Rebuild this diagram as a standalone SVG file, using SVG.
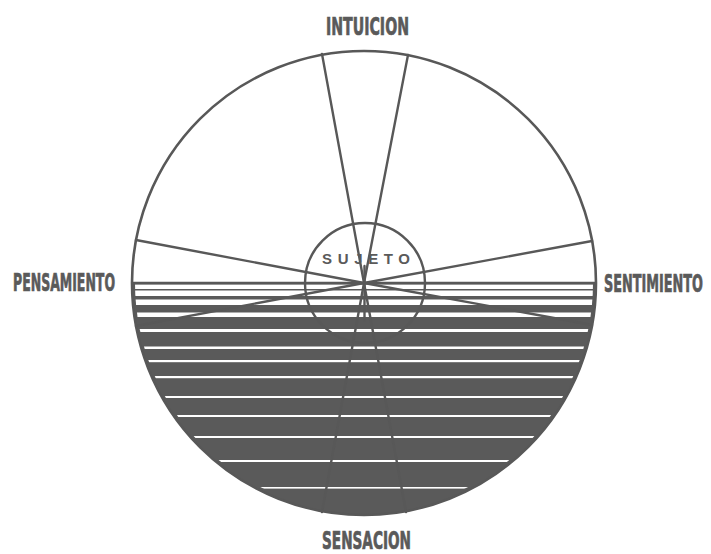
<svg xmlns="http://www.w3.org/2000/svg" width="711" height="554" viewBox="0 0 711 554">
<style>
.ln{stroke:#585858;stroke-width:2.4;fill:none;stroke-linecap:round}
.st{fill:#ffffff}
.lbl{font-family:"Liberation Sans Narrow","DejaVu Sans Condensed","Liberation Sans",sans-serif;font-weight:bold;fill:#5a5a5a;stroke:#5a5a5a;stroke-width:0.7;font-size:25px}
.suj{font-family:"Liberation Sans","DejaVu Sans",sans-serif;font-weight:bold;fill:#5a5a5a;font-size:15px}
</style>
<defs>
<clipPath id="inner"><circle cx="364" cy="283" r="229"/></clipPath>
</defs>
<rect width="711" height="554" fill="#ffffff"/>
<g id="disc">
<path d="M132 283 A232 232 0 0 0 596 283 Z" fill="#5a5a5a"/>
<g clip-path="url(#inner)">
<rect class="st" x="120" y="284.5" width="480" height="4.5"/>
<rect class="st" x="120" y="290.5" width="480" height="5.5"/>
<rect class="st" x="120" y="299.5" width="480" height="5.5"/>
<rect class="st" x="120" y="312.5" width="480" height="4.5"/>
<rect class="st" x="120" y="329" width="480" height="3"/>
<rect class="st" x="120" y="346.5" width="480" height="2.5"/>
<rect class="st" x="120" y="360" width="480" height="2.2"/>
<rect class="st" x="120" y="376" width="480" height="2.2"/>
<rect class="st" x="120" y="396" width="480" height="2"/>
<rect class="st" x="120" y="415" width="480" height="2"/>
<rect class="st" x="120" y="436" width="480" height="2"/>
<rect class="st" x="120" y="460" width="480" height="2"/>
<rect class="st" x="120" y="487" width="480" height="1.6"/>
<rect class="st" x="120" y="515" width="480" height="1.6"/>
</g>
</g>
<g id="connectors">
<line class="ln" x1="364" y1="283" x2="322" y2="54"/>
<line class="ln" x1="364" y1="283" x2="408" y2="55"/>
<line class="ln" x1="364" y1="283" x2="136" y2="240"/>
<line class="ln" x1="364" y1="283" x2="592" y2="241"/>
<line class="ln" x1="364" y1="283" x2="136" y2="326"/>
<line class="ln" x1="364" y1="283" x2="592" y2="325"/>
<line class="ln" x1="364" y1="283" x2="322" y2="512"/>
<line class="ln" x1="364" y1="283" x2="406" y2="512"/>
<line class="ln" x1="364.5" y1="266" x2="364.5" y2="320"/>
<line class="ln" x1="133" y1="283" x2="595" y2="283"/>
</g>
<g id="outer-circle">
<circle cx="364" cy="283" r="232" fill="none" stroke="#585858" stroke-width="2.6"/>
</g>
<g id="sujeto">
<circle cx="365" cy="283" r="60" fill="none" stroke="#585858" stroke-width="2.4"/>
<text class="suj" x="322" y="264" textLength="88" lengthAdjust="spacing">SUJETO</text>
</g>
<g id="intuicion"><text class="lbl" x="326" y="35" textLength="83" lengthAdjust="spacingAndGlyphs">INTUICION</text></g>
<g id="pensamiento"><text class="lbl" x="13" y="291" textLength="102" lengthAdjust="spacingAndGlyphs">PENSAMIENTO</text></g>
<g id="sentimiento"><text class="lbl" transform="translate(604 292) scale(0.6 1)" x="0" y="0" textLength="165" lengthAdjust="spacingAndGlyphs">SENTIMIENTO</text></g>
<g id="sensacion"><text class="lbl" x="322" y="549" textLength="89" lengthAdjust="spacingAndGlyphs">SENSACION</text></g>
</svg>
